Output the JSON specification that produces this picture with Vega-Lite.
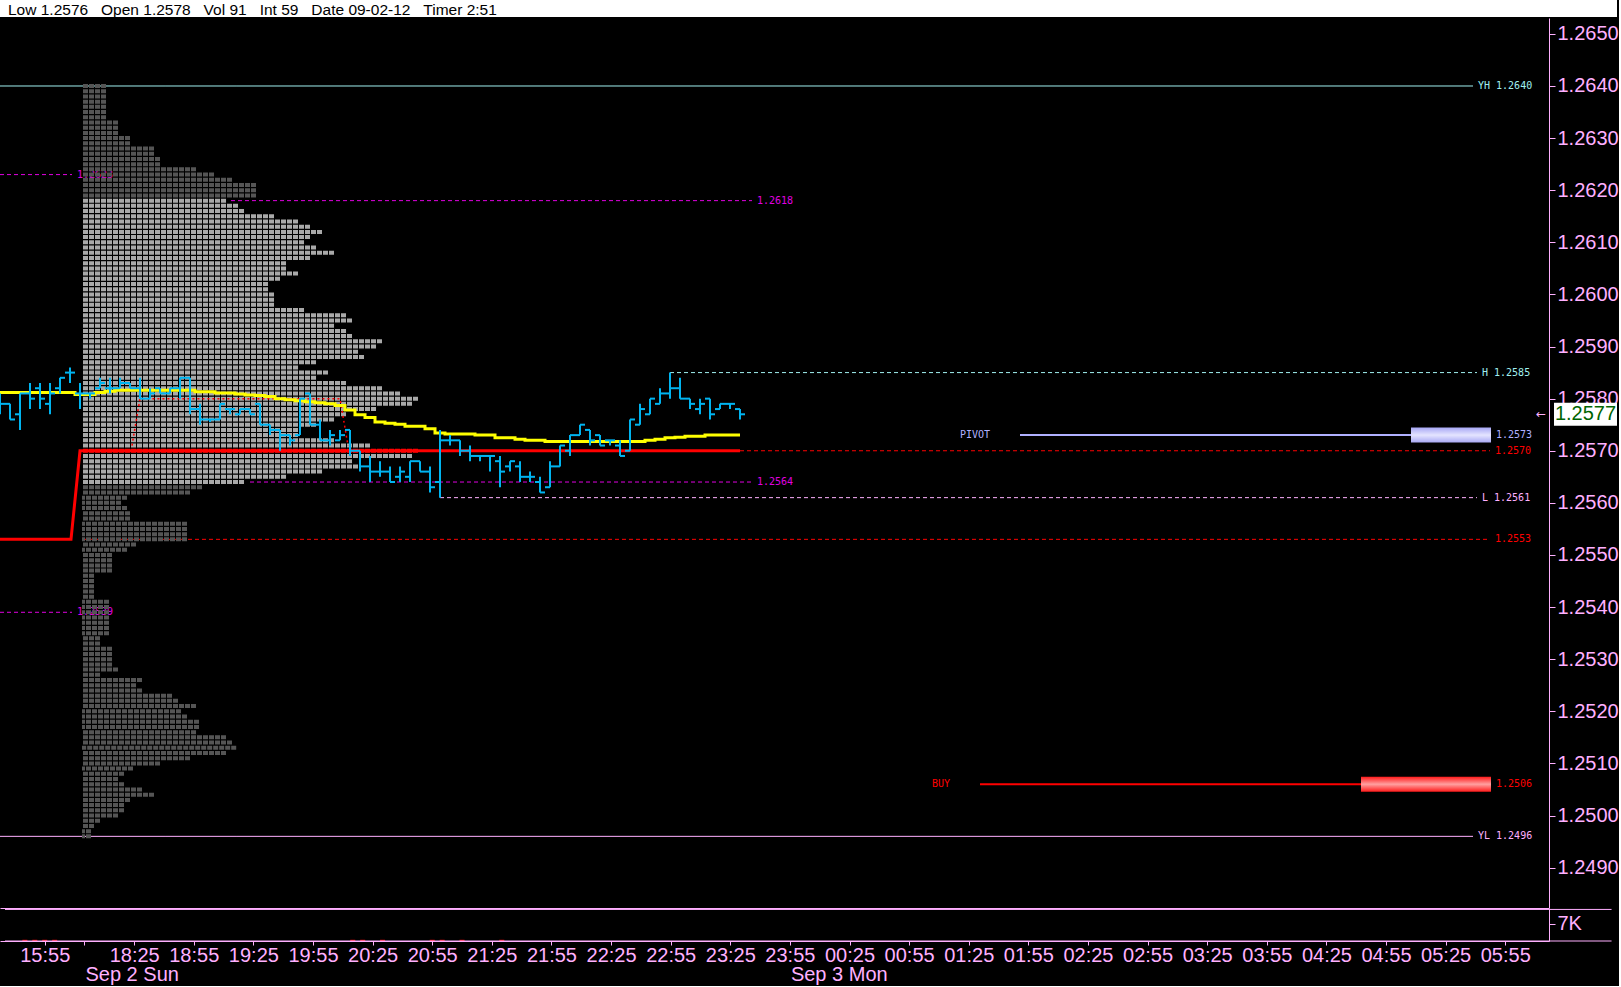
{
  "$schema": "https://vega.github.io/schema/vega-lite/v6.json",
  "description": "EUR/USD 5-minute bars with session volume profile and reference levels.",
  "background": "#000000",
  "padding": 0,
  "spacing": 0,
  "config": {"view": {"fill": "#000000", "stroke": null}},
  "resolve": {"scale": {"x": "independent", "y": "independent", "color": "independent"}},
  "datasets": {
    "header": [{"label": "Low\u00a01.2576\u00a0\u00a0\u00a0Open\u00a01.2578\u00a0\u00a0\u00a0Vol\u00a091\u00a0\u00a0\u00a0Int\u00a059\u00a0\u00a0\u00a0Date\u00a009-02-12\u00a0\u00a0\u00a0Timer\u00a02:51"}],
    "levels": [
      {"label": "YH 1.2640", "price": 1.264, "x0": -8, "x1": 139.3, "kind": "cyan", "dash": "solid"},
      {"label": "H 1.2585", "price": 1.2585, "x0": 59, "x1": 139.7, "kind": "cyan", "dash": "dash"},
      {"label": "L 1.2561", "price": 1.2561, "x0": 36, "x1": 139.7, "kind": "pink", "dash": "dash"},
      {"label": "YL 1.2496", "price": 1.2496, "x0": -8, "x1": 139.3, "kind": "pink", "dash": "solid"},
      {"label": "1.2570", "price": 1.257, "x0": 66, "x1": 141, "kind": "red", "dash": "dash"},
      {"label": "1.2553", "price": 1.2553, "x0": 0.3, "x1": 141, "kind": "red", "dash": "dash"},
      {"label": "1.2618", "price": 1.2618, "x0": 15.1, "x1": 67.2, "kind": "magenta", "dash": "dash"},
      {"label": "1.2564", "price": 1.2564, "x0": 17, "x1": 67.2, "kind": "magenta", "dash": "dash"},
      {"label": "1.2623", "price": 1.2623, "x0": -8, "x1": -0.8, "kind": "magenta", "dash": "dash"},
      {"label": "1.2539", "price": 1.2539, "x0": -8, "x1": -0.8, "kind": "magenta", "dash": "dash"}
    ],
    "orders": [
      {"name": "PIVOT", "label": "1.2573", "price": 1.2573, "a": 94, "b": 133.1, "c": 141.1, "kind": "lavender"},
      {"name": "BUY", "label": "1.2506", "price": 1.2506, "a": 90, "b": 128.1, "c": 141.1, "kind": "red"}
    ],
    "poc": [
      {"x": -8, "p": 1.2553}, {"x": -0.9, "p": 1.2553}, {"x": 0, "p": 1.257}, {"x": 66, "p": 1.257}
    ],
    "dev": [
      {"x": 5.2, "p": 1.2571}, {"x": 6, "p": 1.258}, {"x": 26, "p": 1.258}, {"x": 26.8, "p": 1.2571}
    ],
    "last": [{"price": 1.2577, "label": "1.2577", "arrow": "\u2190"}],
    "panelEdges": [{"edge": "top", "v": 13000}, {"edge": "bottom", "v": 0}],
    "profile": [
      {"p": 1.264, "n": 4, "kind": "out"},
      {"p": 1.2639, "n": 4, "kind": "out"},
      {"p": 1.2638, "n": 4, "kind": "out"},
      {"p": 1.2637, "n": 4, "kind": "out"},
      {"p": 1.2636, "n": 4, "kind": "out"},
      {"p": 1.2635, "n": 4, "kind": "out"},
      {"p": 1.2634, "n": 4, "kind": "out"},
      {"p": 1.2633, "n": 6, "kind": "out"},
      {"p": 1.2632, "n": 6, "kind": "out"},
      {"p": 1.2631, "n": 6, "kind": "out"},
      {"p": 1.263, "n": 8, "kind": "out"},
      {"p": 1.2629, "n": 8, "kind": "out"},
      {"p": 1.2628, "n": 12, "kind": "out"},
      {"p": 1.2627, "n": 12, "kind": "out"},
      {"p": 1.2626, "n": 13, "kind": "out"},
      {"p": 1.2625, "n": 13, "kind": "out"},
      {"p": 1.2624, "n": 19, "kind": "out"},
      {"p": 1.2623, "n": 22, "kind": "out"},
      {"p": 1.2622, "n": 25, "kind": "out"},
      {"p": 1.2621, "n": 29, "kind": "out"},
      {"p": 1.262, "n": 29, "kind": "out"},
      {"p": 1.2619, "n": 29, "kind": "out"},
      {"p": 1.2618, "n": 24, "kind": "va"},
      {"p": 1.2617, "n": 26, "kind": "va"},
      {"p": 1.2616, "n": 27, "kind": "va"},
      {"p": 1.2615, "n": 32, "kind": "va"},
      {"p": 1.2614, "n": 36, "kind": "va"},
      {"p": 1.2613, "n": 38, "kind": "va"},
      {"p": 1.2612, "n": 40, "kind": "va"},
      {"p": 1.2611, "n": 38, "kind": "va"},
      {"p": 1.261, "n": 37, "kind": "va"},
      {"p": 1.2609, "n": 39, "kind": "va"},
      {"p": 1.2608, "n": 42, "kind": "va"},
      {"p": 1.2607, "n": 38, "kind": "va"},
      {"p": 1.2606, "n": 34, "kind": "va"},
      {"p": 1.2605, "n": 34, "kind": "va"},
      {"p": 1.2604, "n": 36, "kind": "va"},
      {"p": 1.2603, "n": 33, "kind": "va"},
      {"p": 1.2602, "n": 31, "kind": "va"},
      {"p": 1.2601, "n": 31, "kind": "va"},
      {"p": 1.26, "n": 32, "kind": "va"},
      {"p": 1.2599, "n": 32, "kind": "va"},
      {"p": 1.2598, "n": 32, "kind": "va"},
      {"p": 1.2597, "n": 37, "kind": "va"},
      {"p": 1.2596, "n": 44, "kind": "va"},
      {"p": 1.2595, "n": 45, "kind": "va"},
      {"p": 1.2594, "n": 42, "kind": "va"},
      {"p": 1.2593, "n": 44, "kind": "va"},
      {"p": 1.2592, "n": 45, "kind": "va"},
      {"p": 1.2591, "n": 50, "kind": "va"},
      {"p": 1.259, "n": 49, "kind": "va"},
      {"p": 1.2589, "n": 46, "kind": "va"},
      {"p": 1.2588, "n": 47, "kind": "va"},
      {"p": 1.2587, "n": 39, "kind": "va"},
      {"p": 1.2586, "n": 36, "kind": "va"},
      {"p": 1.2585, "n": 41, "kind": "va"},
      {"p": 1.2584, "n": 39, "kind": "va"},
      {"p": 1.2583, "n": 44, "kind": "va"},
      {"p": 1.2582, "n": 50, "kind": "va"},
      {"p": 1.2581, "n": 53, "kind": "va"},
      {"p": 1.258, "n": 56, "kind": "va"},
      {"p": 1.2579, "n": 55, "kind": "va"},
      {"p": 1.2578, "n": 49, "kind": "va"},
      {"p": 1.2577, "n": 44, "kind": "va"},
      {"p": 1.2576, "n": 42, "kind": "va"},
      {"p": 1.2575, "n": 39, "kind": "va"},
      {"p": 1.2574, "n": 36, "kind": "va"},
      {"p": 1.2573, "n": 36, "kind": "va"},
      {"p": 1.2572, "n": 42, "kind": "va"},
      {"p": 1.2571, "n": 48, "kind": "va"},
      {"p": 1.257, "n": 56, "kind": "poc"},
      {"p": 1.2569, "n": 55, "kind": "va"},
      {"p": 1.2568, "n": 45, "kind": "va"},
      {"p": 1.2567, "n": 46, "kind": "va"},
      {"p": 1.2566, "n": 40, "kind": "va"},
      {"p": 1.2565, "n": 34, "kind": "va"},
      {"p": 1.2564, "n": 27, "kind": "va"},
      {"p": 1.2563, "n": 20, "kind": "out"},
      {"p": 1.2562, "n": 18, "kind": "out"},
      {"p": 1.2561, "n": 7.5, "kind": "out"},
      {"p": 1.256, "n": 6.5, "kind": "out"},
      {"p": 1.2559, "n": 7.5, "kind": "out"},
      {"p": 1.2558, "n": 8, "kind": "out"},
      {"p": 1.2557, "n": 8, "kind": "out"},
      {"p": 1.2556, "n": 17.5, "kind": "out"},
      {"p": 1.2555, "n": 17.5, "kind": "out"},
      {"p": 1.2554, "n": 17.5, "kind": "out"},
      {"p": 1.2553, "n": 17.5, "kind": "out"},
      {"p": 1.2552, "n": 9, "kind": "out"},
      {"p": 1.2551, "n": 7.5, "kind": "out"},
      {"p": 1.255, "n": 5, "kind": "out"},
      {"p": 1.2549, "n": 5, "kind": "out"},
      {"p": 1.2548, "n": 5, "kind": "out"},
      {"p": 1.2547, "n": 5, "kind": "out"},
      {"p": 1.2546, "n": 2, "kind": "out"},
      {"p": 1.2545, "n": 2, "kind": "out"},
      {"p": 1.2544, "n": 2, "kind": "out"},
      {"p": 1.2543, "n": 2, "kind": "out"},
      {"p": 1.2542, "n": 2, "kind": "out"},
      {"p": 1.2541, "n": 4.5, "kind": "out"},
      {"p": 1.254, "n": 4.5, "kind": "out"},
      {"p": 1.2539, "n": 4.5, "kind": "out"},
      {"p": 1.2538, "n": 4.5, "kind": "out"},
      {"p": 1.2537, "n": 4.5, "kind": "out"},
      {"p": 1.2536, "n": 4.5, "kind": "out"},
      {"p": 1.2535, "n": 4.5, "kind": "out"},
      {"p": 1.2534, "n": 3, "kind": "out"},
      {"p": 1.2533, "n": 3, "kind": "out"},
      {"p": 1.2532, "n": 5, "kind": "out"},
      {"p": 1.2531, "n": 5, "kind": "out"},
      {"p": 1.253, "n": 5, "kind": "out"},
      {"p": 1.2529, "n": 5, "kind": "out"},
      {"p": 1.2528, "n": 6, "kind": "out"},
      {"p": 1.2527, "n": 3, "kind": "out"},
      {"p": 1.2526, "n": 10, "kind": "out"},
      {"p": 1.2525, "n": 9, "kind": "out"},
      {"p": 1.2524, "n": 10, "kind": "out"},
      {"p": 1.2523, "n": 15, "kind": "out"},
      {"p": 1.2522, "n": 16, "kind": "out"},
      {"p": 1.2521, "n": 19, "kind": "out"},
      {"p": 1.252, "n": 16.5, "kind": "out"},
      {"p": 1.2519, "n": 17.5, "kind": "out"},
      {"p": 1.2518, "n": 19.5, "kind": "out"},
      {"p": 1.2517, "n": 19.5, "kind": "out"},
      {"p": 1.2516, "n": 19, "kind": "out"},
      {"p": 1.2515, "n": 24, "kind": "out"},
      {"p": 1.2514, "n": 25, "kind": "out"},
      {"p": 1.2513, "n": 25.7, "kind": "out"},
      {"p": 1.2512, "n": 24, "kind": "out"},
      {"p": 1.2511, "n": 18, "kind": "out"},
      {"p": 1.251, "n": 13, "kind": "out"},
      {"p": 1.2509, "n": 8.5, "kind": "out"},
      {"p": 1.2508, "n": 7, "kind": "out"},
      {"p": 1.2507, "n": 6, "kind": "out"},
      {"p": 1.2506, "n": 7, "kind": "out"},
      {"p": 1.2505, "n": 10, "kind": "out"},
      {"p": 1.2504, "n": 12, "kind": "out"},
      {"p": 1.2503, "n": 8, "kind": "out"},
      {"p": 1.2502, "n": 7, "kind": "out"},
      {"p": 1.2501, "n": 7, "kind": "out"},
      {"p": 1.25, "n": 6, "kind": "out"},
      {"p": 1.2499, "n": 3, "kind": "out"},
      {"p": 1.2498, "n": 2, "kind": "out"},
      {"p": 1.2497, "n": 1.5, "kind": "out"},
      {"p": 1.2496, "n": 1.5, "kind": "out"}
    ],
    "bars": [
      {"i": -8, "o": 1.258, "h": 1.2581, "l": 1.2577, "c": 1.2579, "vw": 1.25812},
      {"i": -7, "o": 1.2579, "h": 1.2579, "l": 1.2576, "c": 1.2576, "vw": 1.25812},
      {"i": -6, "o": 1.2577, "h": 1.2581, "l": 1.2574, "c": 1.2581, "vw": 1.25812},
      {"i": -5, "o": 1.2581, "h": 1.2583, "l": 1.2578, "c": 1.258, "vw": 1.25812},
      {"i": -4, "o": 1.2582, "h": 1.2583, "l": 1.2578, "c": 1.258, "vw": 1.25812},
      {"i": -3, "o": 1.2579, "h": 1.2583, "l": 1.2577, "c": 1.2581, "vw": 1.25812},
      {"i": -2, "o": 1.2582, "h": 1.2584, "l": 1.2581, "c": 1.2584, "vw": 1.25812},
      {"i": -1, "o": 1.2585, "h": 1.2586, "l": 1.2583, "c": 1.2585, "vw": 1.25812},
      {"i": 0, "o": 1.2581, "h": 1.2583, "l": 1.2578, "c": 1.2581, "vw": 1.25808},
      {"i": 1, "o": 1.2581, "h": 1.2581, "l": 1.258, "c": 1.2581, "vw": 1.25808},
      {"i": 2, "o": 1.2582, "h": 1.2584, "l": 1.2582, "c": 1.2583, "vw": 1.25812},
      {"i": 3, "o": 1.2582, "h": 1.2584, "l": 1.2581, "c": 1.2582, "vw": 1.25814},
      {"i": 4, "o": 1.2582, "h": 1.2584, "l": 1.2582, "c": 1.2583, "vw": 1.25816},
      {"i": 5, "o": 1.2583, "h": 1.2583, "l": 1.2582, "c": 1.2582, "vw": 1.25816},
      {"i": 6, "o": 1.2582, "h": 1.2584, "l": 1.258, "c": 1.258, "vw": 1.25816},
      {"i": 7, "o": 1.258, "h": 1.2582, "l": 1.258, "c": 1.2581, "vw": 1.25816},
      {"i": 8, "o": 1.2582, "h": 1.2582, "l": 1.2581, "c": 1.2581, "vw": 1.25816},
      {"i": 9, "o": 1.2581, "h": 1.2582, "l": 1.2581, "c": 1.2582, "vw": 1.25816},
      {"i": 10, "o": 1.2582, "h": 1.2584, "l": 1.258, "c": 1.2584, "vw": 1.25816},
      {"i": 11, "o": 1.2584, "h": 1.2584, "l": 1.2577, "c": 1.2578, "vw": 1.25816},
      {"i": 12, "o": 1.2578, "h": 1.2579, "l": 1.2575, "c": 1.2576, "vw": 1.25813},
      {"i": 13, "o": 1.2576, "h": 1.2576, "l": 1.25755, "c": 1.2576, "vw": 1.25813},
      {"i": 14, "o": 1.2576, "h": 1.2579, "l": 1.2576, "c": 1.2579, "vw": 1.25811},
      {"i": 15, "o": 1.2578, "h": 1.2578, "l": 1.2577, "c": 1.2578, "vw": 1.25811},
      {"i": 16, "o": 1.2577, "h": 1.2578, "l": 1.2577, "c": 1.2578, "vw": 1.25809},
      {"i": 17, "o": 1.2578, "h": 1.2578, "l": 1.2577, "c": 1.2577, "vw": 1.25807},
      {"i": 18, "o": 1.2579, "h": 1.2579, "l": 1.2575, "c": 1.2575, "vw": 1.25806},
      {"i": 19, "o": 1.2575, "h": 1.2575, "l": 1.2573, "c": 1.2574, "vw": 1.25804},
      {"i": 20, "o": 1.2574, "h": 1.2574, "l": 1.257, "c": 1.2573, "vw": 1.258},
      {"i": 21, "o": 1.2573, "h": 1.2573, "l": 1.2571, "c": 1.2572, "vw": 1.25798},
      {"i": 22, "o": 1.2573, "h": 1.258, "l": 1.2573, "c": 1.258, "vw": 1.25796},
      {"i": 23, "o": 1.2581, "h": 1.2581, "l": 1.2575, "c": 1.2575, "vw": 1.25794},
      {"i": 24, "o": 1.2575, "h": 1.2576, "l": 1.2572, "c": 1.2572, "vw": 1.25792},
      {"i": 25, "o": 1.2572, "h": 1.2574, "l": 1.2571, "c": 1.2573, "vw": 1.2579},
      {"i": 26, "o": 1.2572, "h": 1.2574, "l": 1.2572, "c": 1.2573, "vw": 1.25787},
      {"i": 27, "o": 1.2574, "h": 1.2574, "l": 1.2569, "c": 1.257, "vw": 1.25778},
      {"i": 28, "o": 1.257, "h": 1.257, "l": 1.2566, "c": 1.2567, "vw": 1.25769},
      {"i": 29, "o": 1.2567, "h": 1.2569, "l": 1.2564, "c": 1.2566, "vw": 1.25764},
      {"i": 30, "o": 1.2566, "h": 1.2568, "l": 1.2565, "c": 1.2566, "vw": 1.25755},
      {"i": 31, "o": 1.2566, "h": 1.2567, "l": 1.2564, "c": 1.2564, "vw": 1.25753},
      {"i": 32, "o": 1.2565, "h": 1.2567, "l": 1.2564, "c": 1.2566, "vw": 1.25751},
      {"i": 33, "o": 1.2565, "h": 1.2568, "l": 1.2564, "c": 1.2568, "vw": 1.25747},
      {"i": 34, "o": 1.2568, "h": 1.2568, "l": 1.2566, "c": 1.2566, "vw": 1.25747},
      {"i": 35, "o": 1.2566, "h": 1.2567, "l": 1.2562, "c": 1.2563, "vw": 1.25742},
      {"i": 36, "o": 1.2564, "h": 1.2574, "l": 1.2561, "c": 1.2572, "vw": 1.25734},
      {"i": 37, "o": 1.2572, "h": 1.2573, "l": 1.2571, "c": 1.2572, "vw": 1.25732},
      {"i": 38, "o": 1.2572, "h": 1.2572, "l": 1.2569, "c": 1.257, "vw": 1.25732},
      {"i": 39, "o": 1.257, "h": 1.2571, "l": 1.2568, "c": 1.2569, "vw": 1.25732},
      {"i": 40, "o": 1.2569, "h": 1.2569, "l": 1.2568, "c": 1.2569, "vw": 1.2573},
      {"i": 41, "o": 1.2569, "h": 1.2569, "l": 1.2566, "c": 1.2569, "vw": 1.2573},
      {"i": 42, "o": 1.2568, "h": 1.2569, "l": 1.2563, "c": 1.2566, "vw": 1.25725},
      {"i": 43, "o": 1.2567, "h": 1.2568, "l": 1.2566, "c": 1.2568, "vw": 1.25725},
      {"i": 44, "o": 1.2567, "h": 1.2568, "l": 1.2564, "c": 1.2565, "vw": 1.25722},
      {"i": 45, "o": 1.2565, "h": 1.2566, "l": 1.2564, "c": 1.2565, "vw": 1.2572},
      {"i": 46, "o": 1.2564, "h": 1.2565, "l": 1.2562, "c": 1.2562, "vw": 1.2572},
      {"i": 47, "o": 1.2563, "h": 1.2568, "l": 1.2563, "c": 1.2567, "vw": 1.25718},
      {"i": 48, "o": 1.2567, "h": 1.2571, "l": 1.2567, "c": 1.2571, "vw": 1.25718},
      {"i": 49, "o": 1.257, "h": 1.2573, "l": 1.2569, "c": 1.2573, "vw": 1.25718},
      {"i": 50, "o": 1.2573, "h": 1.2575, "l": 1.2573, "c": 1.2575, "vw": 1.25718},
      {"i": 51, "o": 1.2574, "h": 1.2574, "l": 1.2571, "c": 1.2572, "vw": 1.25718},
      {"i": 52, "o": 1.2573, "h": 1.2573, "l": 1.2571, "c": 1.2571, "vw": 1.25718},
      {"i": 53, "o": 1.2572, "h": 1.2572, "l": 1.2571, "c": 1.2572, "vw": 1.25718},
      {"i": 54, "o": 1.2571, "h": 1.2572, "l": 1.2569, "c": 1.2569, "vw": 1.25718},
      {"i": 55, "o": 1.257, "h": 1.2576, "l": 1.257, "c": 1.2576, "vw": 1.25718},
      {"i": 56, "o": 1.2575, "h": 1.2579, "l": 1.2575, "c": 1.2578, "vw": 1.25718},
      {"i": 57, "o": 1.2577, "h": 1.258, "l": 1.2577, "c": 1.258, "vw": 1.2572},
      {"i": 58, "o": 1.2579, "h": 1.2582, "l": 1.2579, "c": 1.2581, "vw": 1.25722},
      {"i": 59, "o": 1.2581, "h": 1.2585, "l": 1.258, "c": 1.2582, "vw": 1.25725},
      {"i": 60, "o": 1.2582, "h": 1.2584, "l": 1.258, "c": 1.258, "vw": 1.25726},
      {"i": 61, "o": 1.258, "h": 1.258, "l": 1.2578, "c": 1.2579, "vw": 1.25728},
      {"i": 62, "o": 1.2578, "h": 1.258, "l": 1.2577, "c": 1.2579, "vw": 1.25728},
      {"i": 63, "o": 1.258, "h": 1.258, "l": 1.2576, "c": 1.2577, "vw": 1.2573},
      {"i": 64, "o": 1.2578, "h": 1.2579, "l": 1.2578, "c": 1.2579, "vw": 1.2573},
      {"i": 65, "o": 1.2579, "h": 1.2579, "l": 1.2578, "c": 1.2579, "vw": 1.2573},
      {"i": 66, "o": 1.2578, "h": 1.2578, "l": 1.2576, "c": 1.2577, "vw": 1.2573}
    ],
    "vol": [
      {"i": -6, "v": 500}, {"i": -5, "v": 500}, {"i": -4, "v": 500}, {"i": -3, "v": 500},
      {"i": 27, "v": 500}, {"i": 28, "v": 500}, {"i": 30, "v": 500},
      {"i": 35, "v": 500}, {"i": 36, "v": 500}, {"i": 38, "v": 500}, {"i": 42, "v": 500}
    ],
    "dates": [
      {"t": "Sep 2 Sun", "i": 0.1},
      {"t": "Sep 3 Mon", "i": 71.1}
    ]
  },
  "vconcat": [
    {
      "width": 1617,
      "height": 17,
      "view": {"fill": "#ffffff", "stroke": null},
      "data": {"name": "header"},
      "mark": {"type": "text", "align": "left", "baseline": "middle", "dx": 8, "dy": 1, "font": "Liberation Sans", "fontSize": 15.5, "color": "#000000"},
      "encoding": {
        "x": {"field": "label", "type": "nominal", "scale": {"padding": 0, "align": 0}, "axis": null},
        "text": {"field": "label"}
      }
    },
    {
      "width": 1549,
      "height": 890,
      "resolve": {"scale": {"x": "independent"}},
      "layer": [
        {
          "layer": [
            {
              "data": {"name": "levels"},
              "mark": {"type": "rule", "strokeWidth": 1, "clip": true},
              "encoding": {
                "x": {
                  "field": "x0", "type": "quantitative",
                  "scale": {"domain": [-8, 146.9], "nice": false, "zero": false},
                  "axis": {"orient": "bottom", "title": null, "values": [], "ticks": false, "labels": false, "grid": false, "domain": true, "domainColor": "#ffb0ff", "domainWidth": 1}
                },
                "x2": {"field": "x1"},
                "y": {
                  "field": "price", "type": "quantitative",
                  "scale": {"domain": [1.248321, 1.265209], "nice": false, "zero": false},
                  "axis": {
                    "orient": "right", "title": null, "grid": false,
                    "values": [1.249, 1.2495, 1.25, 1.2505, 1.251, 1.2515, 1.252, 1.2525, 1.253, 1.2535, 1.254, 1.2545, 1.255, 1.2555, 1.256, 1.2565, 1.257, 1.2575, 1.258, 1.2585, 1.259, 1.2595, 1.26, 1.2605, 1.261, 1.2615, 1.262, 1.2625, 1.263, 1.2635, 1.264, 1.2645, 1.265],
                    "labelExpr": "round(datum.value * 10000) % 10 == 0 ? format(datum.value, '.4f') : ''",
                    "tickSize": {"condition": {"test": "round(datum.value * 10000) % 10 != 0", "value": 3}, "value": 6},
                    "labelPadding": 2,
                    "labelFont": "Liberation Sans",
                    "labelFontSize": 20,
                    "labelColor": "#ffb0ff",
                    "labelOverlap": false,
                    "labelFlush": false,
                    "labelBound": false,
                    "domainColor": "#ffb0ff",
                    "tickColor": "#ffb0ff"
                  }
                },
                "color": {
                  "field": "kind", "type": "nominal", "legend": null,
                  "scale": {"domain": ["cyan", "pink", "red", "magenta", "lavender", "out", "va", "poc"], "range": ["#a0f0f0", "#ffb0ff", "#ff0000", "#e000e0", "#b0b0ff", "#555555", "#a9a9a9", "#ff0000"]}
                },
                "strokeDash": {
                  "field": "dash", "type": "nominal", "legend": null,
                  "scale": {"domain": ["solid", "dash"], "range": [[1, 0], [4, 3]]}
                }
              }
            },
            {
              "data": {"name": "levels"},
              "mark": {"type": "text", "align": "left", "baseline": "middle", "dx": 5, "font": "DejaVu Sans Mono", "fontSize": 10},
              "encoding": {
                "x": {"field": "x1", "type": "quantitative"},
                "y": {"field": "price", "type": "quantitative"},
                "text": {"field": "label"},
                "color": {
                  "field": "kind", "type": "nominal", "legend": null,
                  "scale": {"domain": ["cyan", "pink", "red", "magenta", "lavender", "out", "va", "poc"], "range": ["#a0f0f0", "#ffb0ff", "#ff0000", "#e000e0", "#b0b0ff", "#555555", "#a9a9a9", "#ff0000"]}
                }
              }
            }
          ]
        },
        {
          "data": {"name": "profile"},
          "mark": {"type": "rule", "strokeWidth": 4, "strokeDash": [5, 1], "strokeCap": "butt"},
          "encoding": {
            "x": {"field": "n", "type": "quantitative", "scale": {"domain": [-13.667, 244.5], "nice": false, "zero": false}, "axis": null},
            "x2": {"datum": 0},
            "y": {"field": "p", "type": "quantitative"},
            "color": {
              "field": "kind", "type": "nominal", "legend": null,
              "scale": {"domain": ["cyan", "pink", "red", "magenta", "lavender", "out", "va", "poc"], "range": ["#a0f0f0", "#ffb0ff", "#ff0000", "#e000e0", "#b0b0ff", "#555555", "#a9a9a9", "#ff0000"]}
            }
          }
        },
        {
          "layer": [
            {
              "data": {"name": "poc"},
              "mark": {"type": "line", "color": "#ff0000", "strokeWidth": 3, "clip": true},
              "encoding": {
                "x": {"field": "x", "type": "quantitative", "scale": {"domain": [-8, 146.9], "nice": false, "zero": false}, "axis": null},
                "y": {"field": "p", "type": "quantitative"}
              }
            },
            {
              "data": {"name": "dev"},
              "mark": {"type": "line", "color": "#ff0000", "strokeWidth": 1.5, "strokeDash": [2, 3]},
              "encoding": {
                "x": {"field": "x", "type": "quantitative", "axis": null},
                "y": {"field": "p", "type": "quantitative"}
              }
            },
            {
              "data": {"name": "orders"},
              "mark": {"type": "rule", "strokeWidth": 2},
              "encoding": {
                "x": {"field": "a", "type": "quantitative", "axis": null},
                "x2": {"field": "b"},
                "y": {"field": "price", "type": "quantitative"},
                "color": {"field": "kind", "type": "nominal", "legend": null, "scale": {"domain": ["cyan", "pink", "red", "magenta", "lavender", "out", "va", "poc"], "range": ["#a0f0f0", "#ffb0ff", "#ff0000", "#e000e0", "#b0b0ff", "#555555", "#a9a9a9", "#ff0000"]}}
              }
            },
            {
              "data": {"name": "orders"},
              "transform": [{"filter": "datum.name == 'PIVOT'"}],
              "mark": {"type": "bar", "size": 15, "color": {"gradient": "linear", "x1": 0, "y1": 0, "x2": 0, "y2": 1, "stops": [{"offset": 0, "color": "#a8a8f4"}, {"offset": 0.5, "color": "#e4e4ff"}, {"offset": 1, "color": "#a8a8f4"}]}},
              "encoding": {
                "x": {"field": "b", "type": "quantitative", "axis": null},
                "x2": {"field": "c"},
                "y": {"field": "price", "type": "quantitative"}
              }
            },
            {
              "data": {"name": "orders"},
              "transform": [{"filter": "datum.name == 'BUY'"}],
              "mark": {"type": "bar", "size": 15, "color": {"gradient": "linear", "x1": 0, "y1": 0, "x2": 0, "y2": 1, "stops": [{"offset": 0, "color": "#ff1a1a"}, {"offset": 0.5, "color": "#ffa0a0"}, {"offset": 1, "color": "#ff1a1a"}]}},
              "encoding": {
                "x": {"field": "b", "type": "quantitative", "axis": null},
                "x2": {"field": "c"},
                "y": {"field": "price", "type": "quantitative"}
              }
            },
            {
              "data": {"name": "orders"},
              "mark": {"type": "text", "align": "left", "baseline": "middle", "dx": 5, "font": "DejaVu Sans Mono", "fontSize": 10},
              "encoding": {
                "x": {"field": "c", "type": "quantitative", "axis": null},
                "y": {"field": "price", "type": "quantitative"},
                "text": {"field": "label"},
                "color": {"field": "kind", "type": "nominal", "legend": null, "scale": {"domain": ["cyan", "pink", "red", "magenta", "lavender", "out", "va", "poc"], "range": ["#a0f0f0", "#ffb0ff", "#ff0000", "#e000e0", "#b0b0ff", "#555555", "#a9a9a9", "#ff0000"]}}
              }
            },
            {
              "data": {"name": "orders"},
              "mark": {"type": "text", "align": "right", "baseline": "middle", "dx": -30, "font": "DejaVu Sans Mono", "fontSize": 10},
              "encoding": {
                "x": {"field": "a", "type": "quantitative", "axis": null},
                "y": {"field": "price", "type": "quantitative"},
                "text": {"field": "name"},
                "color": {"field": "kind", "type": "nominal", "legend": null, "scale": {"domain": ["cyan", "pink", "red", "magenta", "lavender", "out", "va", "poc"], "range": ["#a0f0f0", "#ffb0ff", "#ff0000", "#e000e0", "#b0b0ff", "#555555", "#a9a9a9", "#ff0000"]}}
              }
            },
            {
              "data": {"name": "bars"},
              "mark": {"type": "line", "color": "#ffff00", "strokeWidth": 3, "interpolate": "step", "clip": true},
              "encoding": {
                "x": {"field": "i", "type": "quantitative", "axis": null},
                "y": {"field": "vw", "type": "quantitative"}
              }
            },
            {
              "data": {"name": "bars"},
              "mark": {"type": "rule", "color": "#00b4f0", "strokeWidth": 2, "clip": true},
              "encoding": {
                "x": {"field": "i", "type": "quantitative", "axis": null},
                "y": {"field": "h", "type": "quantitative"},
                "y2": {"field": "l"}
              }
            },
            {
              "data": {"name": "bars"},
              "mark": {"type": "rule", "color": "#00b4f0", "strokeWidth": 2, "xOffset": -5, "clip": true},
              "encoding": {
                "x": {"field": "i", "type": "quantitative", "axis": null},
                "x2": {"field": "i"},
                "y": {"field": "o", "type": "quantitative"}
              }
            },
            {
              "data": {"name": "bars"},
              "mark": {"type": "rule", "color": "#00b4f0", "strokeWidth": 2, "x2Offset": 5, "clip": true},
              "encoding": {
                "x": {"field": "i", "type": "quantitative", "axis": null},
                "x2": {"field": "i"},
                "y": {"field": "c", "type": "quantitative"}
              }
            },
            {
              "data": {"name": "last"},
              "mark": {"type": "bar", "color": "#ffffff", "size": 23},
              "encoding": {
                "x": {"datum": 147.4, "type": "quantitative", "axis": null},
                "x2": {"datum": 153.7},
                "y": {"field": "price", "type": "quantitative"}
              }
            },
            {
              "data": {"name": "last"},
              "mark": {"type": "text", "align": "center", "baseline": "middle", "font": "Liberation Sans", "fontSize": 20, "color": "#006400"},
              "encoding": {
                "x": {"datum": 150.55, "type": "quantitative", "axis": null},
                "y": {"field": "price", "type": "quantitative"},
                "text": {"field": "label"}
              }
            },
            {
              "data": {"name": "last"},
              "mark": {"type": "text", "align": "center", "baseline": "middle", "font": "DejaVu Sans", "fontSize": 12, "color": "#ffb0ff"},
              "encoding": {
                "x": {"datum": 146.1, "type": "quantitative", "axis": null},
                "y": {"field": "price", "type": "quantitative"},
                "text": {"field": "arrow"}
              }
            }
          ]
        }
      ]
    },
    {
      "width": 1549,
      "height": 32,
      "layer": [
        {
          "data": {"name": "vol"},
          "mark": {"type": "bar", "color": "#ff0000", "width": 5},
          "encoding": {
            "x": {
              "field": "i", "type": "quantitative",
              "scale": {"domain": [-8, 146.9], "nice": false, "zero": false},
              "axis": {
                "orient": "bottom", "title": null, "grid": false,
                "values": [-4, 0, 5, 11, 17, 23, 29, 35, 41, 47, 53, 59, 65, 71, 77, 83, 89, 95, 101, 107, 113, 119, 125, 131, 137, 143],
                "labelExpr": "datum.value < 0 ? '15:55' : datum.value == 0 ? '' : utcFormat(1346608800000 + datum.value * 300000, '%H:%M')",
                "tickSize": 4,
                "labelPadding": 0,
                "labelFont": "Liberation Sans",
                "labelFontSize": 20,
                "labelColor": "#ffb0ff",
                "labelOverlap": false,
                "labelFlush": false,
                "labelBound": false,
                "domainColor": "#ffb0ff",
                "tickColor": "#ffb0ff"
              }
            },
            "y": {
              "field": "v", "type": "quantitative",
              "scale": {"domain": [0, 13176], "nice": false, "zero": false},
              "axis": {
                "orient": "right", "title": null, "grid": false,
                "values": [7000],
                "labelExpr": "'7K'",
                "tickSize": 6,
                "labelPadding": 2,
                "labelFont": "Liberation Sans",
                "labelFontSize": 20,
                "labelColor": "#ffb0ff",
                "labelOverlap": false,
                "labelBound": false,
                "domainColor": "#ffb0ff",
                "tickColor": "#ffb0ff"
              }
            },
            "y2": {"datum": 0}
          }
        },
        {
          "data": {"name": "panelEdges"},
          "mark": {"type": "rule", "color": "#ffb0ff", "strokeWidth": 1},
          "encoding": {
            "x": {"datum": -8, "type": "quantitative"},
            "x2": {"datum": 153.7},
            "y": {"field": "v", "type": "quantitative"}
          }
        },
        {
          "data": {"name": "dates"},
          "mark": {"type": "text", "align": "left", "baseline": "middle", "font": "Liberation Sans", "fontSize": 20, "color": "#ffb0ff"},
          "encoding": {
            "x": {"field": "i", "type": "quantitative"},
            "y": {"datum": -14000, "type": "quantitative"},
            "text": {"field": "t"}
          }
        }
      ]
    }
  ]
}
